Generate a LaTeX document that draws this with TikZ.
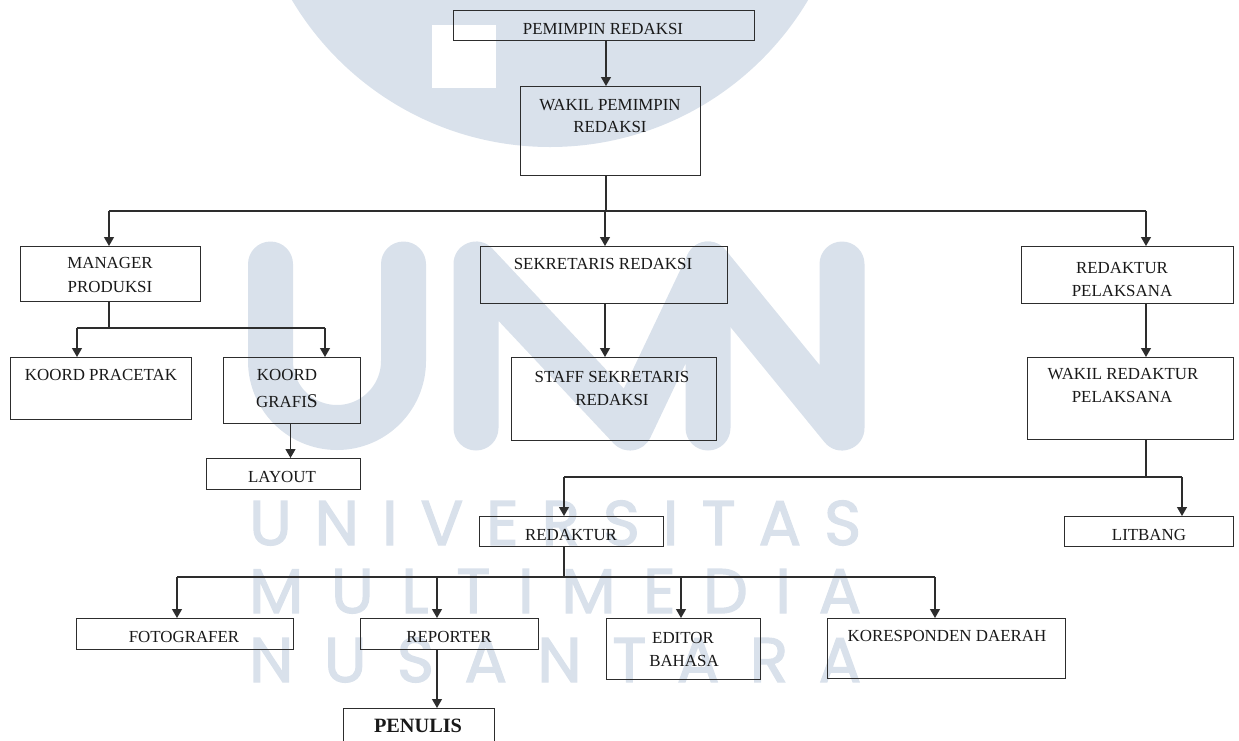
\documentclass[tikz,border=0pt]{standalone}
\usepackage{fontspec}
\setmainfont{Liberation Serif}
\newfontfamily\wmfont{Poppins}[FakeBold=2]
\usetikzlibrary{arrows.meta}
\definecolor{wm}{RGB}{217,225,235}
\definecolor{ln}{RGB}{45,45,45}
\definecolor{tx}{RGB}{25,25,25}
\tikzset{
  orgbox/.style={draw=ln, line width=1.2pt, inner sep=0pt, anchor=north west},
  lbl/.style={anchor=base, inner sep=0pt, text=tx, font=\fontsize{16.9}{20}\selectfont},
  conn/.style={draw=ln, line width=1.2pt},
  arr/.style={conn, -{Triangle[length=9pt,width=10pt]}},
  wmstroke/.style={draw=wm, line width=45pt, line cap=round, line join=round},
  wmtext/.style={anchor=base west, inner sep=0pt, text=wm, font=\wmfont\fontsize{63}{63}\selectfont}
}
\newcommand\orgnode[6]{\node[orgbox, minimum width=#4-#2, minimum height=#5-#3] (#1) at (#2,#3) {};}
\begin{document}
\begin{tikzpicture}[x=1pt,y=-1pt]
\useasboundingbox (0,0) rectangle (1239,740);
\clip (0,0) rectangle (1239,740);
% ---------- watermark ----------
\fill[wm] (550,-153) circle[radius=300];
\fill[white] (432,25) rectangle (496,88);
\draw[wmstroke] (270.5,264) -- (270.5,361) arc[start angle=180,end angle=0,radius=66.5] -- (403.5,264);
\draw[wmstroke] (476,428) -- (476,264) -- (630,428) -- (708,264) -- (708,428);
\draw[wmstroke] (708,264) -- (842,428) -- (842,264);
\node[wmtext] (wm1) at (249,545) {\makebox[612pt][s]{U\hfil N\hfil I\hfil V\hfil E\hfil R\hfil S\hfil I\hfil T\hfil A\hfil S}};
\node[wmtext] (wm2) at (249,613) {\makebox[612pt][s]{M\hfil U\hfil L\hfil T\hfil I\hfil M\hfil E\hfil D\hfil I\hfil A}};
\node[wmtext] (wm3) at (249,682) {\makebox[612pt][s]{N\hfil U\hfil S\hfil A\hfil N\hfil T\hfil A\hfil R\hfil A}};
% ---------- boxes ----------
\orgnode{pem}{453}{10}{754}{40}{}
\orgnode{wakil}{520}{86}{700}{175}{}
\orgnode{mgr}{20}{246}{200}{301}{}
\orgnode{sek}{480}{246}{727}{303}{}
\orgnode{redpel}{1021}{246}{1233}{303}{}
\orgnode{prac}{10}{357}{191}{419}{}
\orgnode{graf}{223}{357}{360}{423}{}
\orgnode{lay}{206}{458}{360}{489}{}
\orgnode{staff}{511}{357}{716}{440}{}
\orgnode{wredpel}{1027}{357}{1233}{439}{}
\orgnode{redak}{479}{516}{663}{546}{}
\orgnode{litb}{1064}{516}{1233}{546}{}
\orgnode{foto}{76}{618}{293}{649}{}
\orgnode{rep}{360}{618}{538}{649}{}
\orgnode{edit}{606}{618}{760}{679}{}
\orgnode{kores}{827}{618}{1065}{678}{}
\orgnode{pen}{343}{708}{494}{770}{}
% ---------- labels ----------
\node[lbl] (t-pem) at (603,34) {PEMIMPIN REDAKSI};
\node[lbl] (t-wakil1) at (610,110) {WAKIL PEMIMPIN};
\node[lbl] (t-wakil2) at (610,132) {REDAKSI};
\node[lbl] (t-mgr1) at (110,268) {MANAGER};
\node[lbl] (t-mgr2) at (110,292) {PRODUKSI};
\node[lbl] (t-sek) at (603,269) {SEKRETARIS REDAKSI};
\node[lbl] (t-redpel1) at (1122,273) {REDAKTUR};
\node[lbl] (t-redpel2) at (1122,296) {PELAKSANA};
\node[lbl] (t-prac) at (101,380) {KOORD PRACETAK};
\node[lbl] (t-graf1) at (287,380) {KOORD};
\node[lbl] (t-graf2) at (287,407) {GRAFI{\fontsize{19.5}{20}\selectfont S}};
\node[lbl] (t-lay) at (282,482) {LAYOUT};
\node[lbl] (t-staff1) at (612,382) {STAFF SEKRETARIS};
\node[lbl] (t-staff2) at (612,405) {REDAKSI};
\node[lbl] (t-wredpel1) at (1123,379) {WAKIL REDAKTUR};
\node[lbl] (t-wredpel2) at (1122,402) {PELAKSANA};
\node[lbl] (t-redak) at (571,540) {REDAKTUR};
\node[lbl] (t-litb) at (1149,540) {LITBANG};
\node[lbl] (t-foto) at (184,642) {FOTOGRAFER};
\node[lbl] (t-rep) at (449,642) {REPORTER};
\node[lbl] (t-edit1) at (683,643) {EDITOR};
\node[lbl] (t-edit2) at (684,666) {BAHASA};
\node[lbl] (t-kores) at (947,641) {KORESPONDEN DAERAH};
\node[lbl, font=\bfseries\fontsize{20.3}{22}\selectfont] (t-pen) at (418,732) {PENULIS};
% ---------- connector coordinates ----------
\coordinate (x0) at (606,0);
\coordinate (xA) at (109,0);
\coordinate (xB) at (605,0);
\coordinate (xC) at (1146,0);
\coordinate (xD) at (77,0);
\coordinate (xE) at (325,0);
\coordinate (xF) at (290.5,0);
\coordinate (xG) at (564,0);
\coordinate (xH) at (1182,0);
\coordinate (xI) at (177,0);
\coordinate (xJ) at (437,0);
\coordinate (xK) at (681,0);
\coordinate (xL) at (935,0);
\coordinate (bus1) at (606,211);
\coordinate (bus2) at (109,328);
\coordinate (bus3) at (1146,477);
\coordinate (bus4) at (564,577);
% ---------- connectors ----------
\draw[arr] (pem.south -| x0) -- (wakil.north -| x0);
\draw[conn] (wakil.south -| x0) -- (bus1);
\draw[conn] (bus1 -| xA) -- (bus1 -| xC);
\draw[arr] (bus1 -| xA) -- (mgr.north -| xA);
\draw[arr] (bus1 -| xB) -- (sek.north -| xB);
\draw[arr] (bus1 -| xC) -- (redpel.north -| xC);
\draw[conn] (mgr.south -| xA) -- (bus2);
\draw[conn] (bus2 -| xD) -- (bus2 -| xE);
\draw[arr] (bus2 -| xD) -- (prac.north -| xD);
\draw[arr] (bus2 -| xE) -- (graf.north -| xE);
\draw[arr] (graf.south -| xF) -- (lay.north -| xF);
\draw[arr] (sek.south -| xB) -- (staff.north -| xB);
\draw[arr] (redpel.south -| xC) -- (wredpel.north -| xC);
\draw[conn] (wredpel.south -| xC) -- (bus3);
\draw[conn] (bus3 -| xG) -- (bus3 -| xH);
\draw[arr] (bus3 -| xG) -- (redak.north -| xG);
\draw[arr] (bus3 -| xH) -- (litb.north -| xH);
\draw[conn] (redak.south -| xG) -- (bus4);
\draw[conn] (bus4 -| xI) -- (bus4 -| xL);
\draw[arr] (bus4 -| xI) -- (foto.north -| xI);
\draw[arr] (bus4 -| xJ) -- (rep.north -| xJ);
\draw[arr] (bus4 -| xK) -- (edit.north -| xK);
\draw[arr] (bus4 -| xL) -- (kores.north -| xL);
\draw[arr] (rep.south -| xJ) -- (pen.north -| xJ);
\end{tikzpicture}
\end{document}
